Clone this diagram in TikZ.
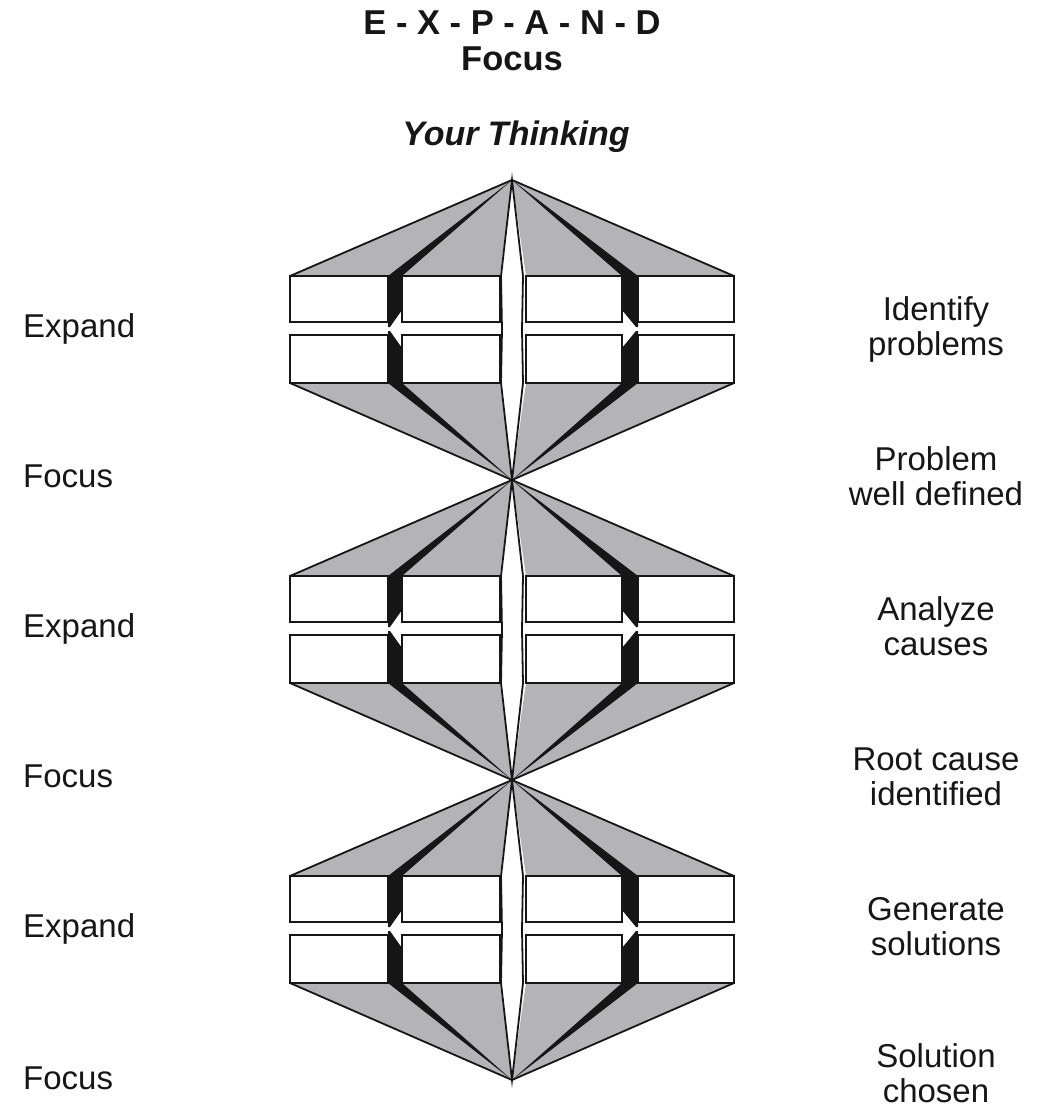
\documentclass[tikz,border=0pt]{standalone}
\usepackage{fontspec}
\setmainfont{Liberation Sans}
\definecolor{facegray}{RGB}{180,180,182}
\definecolor{inkblack}{RGB}{22,22,22}
\begin{document}
\begin{tikzpicture}[x=1pt,y=-1pt,
  face/.style={fill=facegray},
  edge/.style={draw=inkblack,line width=1.8pt,line cap=round},
  slab/.style={fill=white,draw=inkblack,line width=1.6pt},
  band/.style={fill=inkblack},
  lens/.style={fill=white,draw=inkblack,line width=1.8pt,line join=miter},
  lbl/.style={font=\fontsize{33}{35}\selectfont,text=inkblack,align=center,inner sep=0pt},
  ttl/.style={font=\fontsize{34.5}{36}\selectfont\bfseries,text=inkblack,inner sep=0pt}]
\path[use as bounding box] (0,0) rectangle (1051,1109);

% three expand/focus diamonds stacked point to point
\foreach \y/\n in {180/1,480/2,780/3} {
  \coordinate (top\n) at (512,\y);
  \coordinate (bot\n) at (512,\y+300);
  % grey faces above and below the slabs
  \fill[face] (top\n) -- (290,\y+96) -- (500,\y+96) -- cycle;
  \fill[face] (top\n) -- (526,\y+96) -- (734,\y+96) -- cycle;
  \fill[face] (bot\n) -- (290,\y+203) -- (500,\y+203) -- cycle;
  \fill[face] (bot\n) -- (526,\y+203) -- (734,\y+203) -- cycle;
  % outer edges
  \draw[edge] (290,\y+96) -- (top\n) -- (734,\y+96);
  \draw[edge] (290,\y+203) -- (bot\n) -- (734,\y+203);
  % black bands converging on the points
  \fill[band] (top\n) -- (388,\y+96) -- (402,\y+96) -- cycle;
  \fill[band] (top\n) -- (622,\y+96) -- (638,\y+96) -- cycle;
  \fill[band] (bot\n) -- (388,\y+203) -- (402,\y+203) -- cycle;
  \fill[band] (bot\n) -- (622,\y+203) -- (638,\y+203) -- cycle;
  % black side faces between the slabs
  \fill[band] (388,\y+96) -- (402,\y+96) -- (402,\y+130) -- (390,\y+147) -- (388,\y+147) -- cycle;
  \fill[band] (388,\y+151) -- (390,\y+151) -- (402,\y+168) -- (402,\y+203) -- (388,\y+203) -- cycle;
  \fill[band] (622,\y+96) -- (638,\y+96) -- (638,\y+147) -- (636,\y+147) -- (622,\y+130) -- cycle;
  \fill[band] (636,\y+151) -- (638,\y+151) -- (638,\y+203) -- (622,\y+203) -- (622,\y+168) -- cycle;
  % slabs
  \foreach \a/\b in {290/388,402/500,526/622,638/734} {
    \draw[slab] (\a,\y+96) rectangle (\b,\y+142);
    \draw[slab] (\a,\y+155) rectangle (\b,\y+203);
  }
  % central white spindle
  \draw[lens] (top\n) -- (501,\y+96) -- (502,\y+150) -- (501,\y+203) -- (bot\n)
     -- (523,\y+203) -- (522,\y+150) -- (523,\y+96) -- cycle;
}

% headings
\node[ttl,anchor=base] (hA) at (512,34) {E - X - P - A - N - D};
\node[ttl,anchor=base] (hB) at (512,70) {Focus};
\node[ttl,anchor=base,font=\fontsize{34}{36}\selectfont\bfseries\itshape] (hC) at (516,145) {Your Thinking};

% left column
\node[lbl,anchor=base west] (l1) at (23,337) {Expand};
\node[lbl,anchor=base west] (l2) at (23,487) {Focus};
\node[lbl,anchor=base west] (l3) at (23,637) {Expand};
\node[lbl,anchor=base west] (l4) at (23,787) {Focus};
\node[lbl,anchor=base west] (l5) at (23,937) {Expand};
\node[lbl,anchor=base west] (l6) at (23,1089) {Focus};

% right column (base anchor sits on the second line)
\node[lbl,anchor=base] (r1) at (936,355) {Identify\\problems};
\node[lbl,anchor=base] (r2) at (936,505) {Problem\\well defined};
\node[lbl,anchor=base] (r3) at (936,655) {Analyze\\causes};
\node[lbl,anchor=base] (r4) at (936,805) {Root cause\\identified};
\node[lbl,anchor=base] (r5) at (936,955) {Generate\\solutions};
\node[lbl,anchor=base] (r6) at (936,1102) {Solution\\chosen};
\end{tikzpicture}
\end{document}
